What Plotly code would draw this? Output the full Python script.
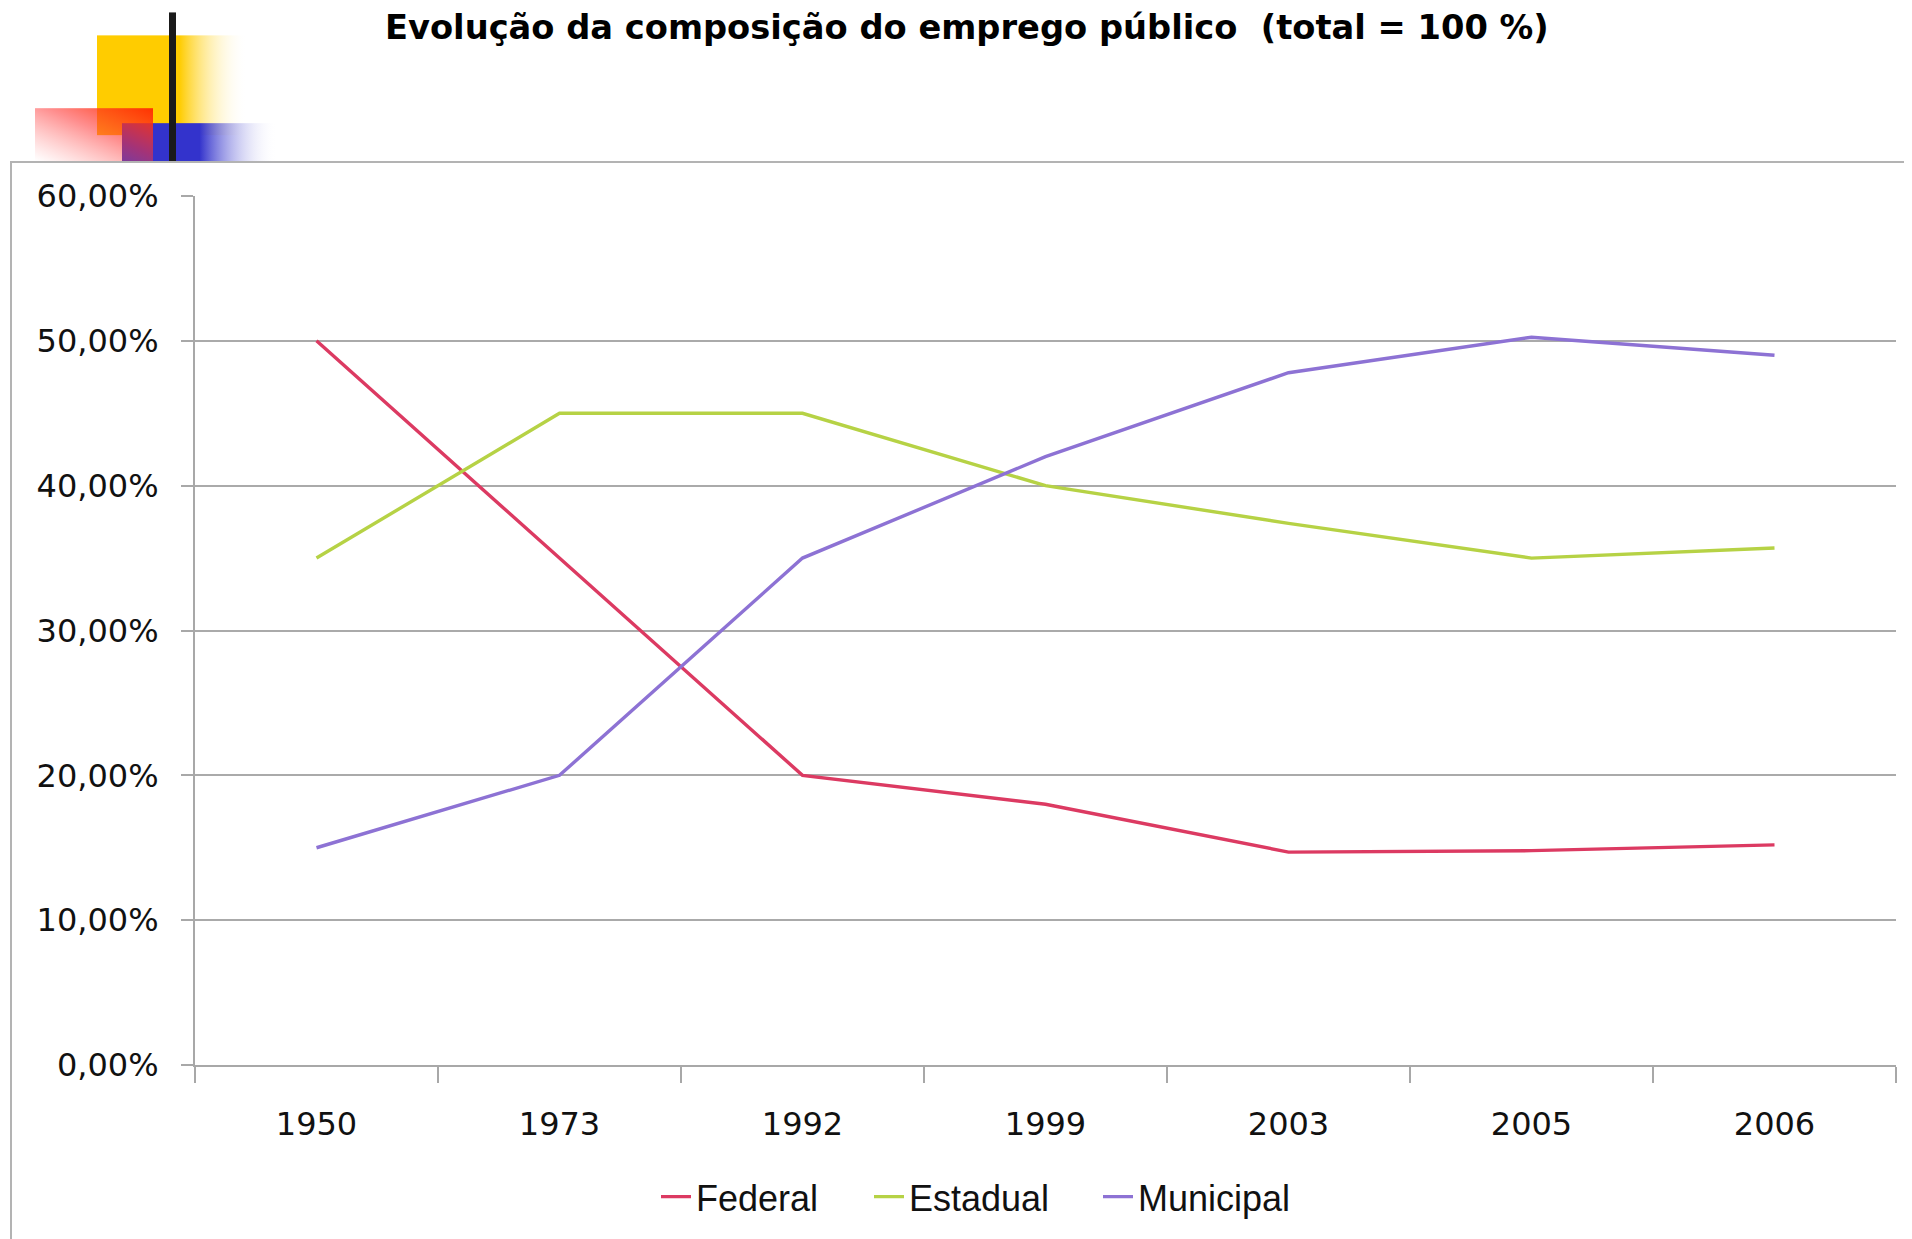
import base64
import plotly.graph_objects as go

# ---------------- data ----------------
years = ["1950", "1973", "1992", "1999", "2003", "2005", "2006"]
federal = [50.0, 35.0, 20.0, 18.0, 14.7, 14.8, 15.2]
estadual = [35.0, 45.0, 45.0, 40.0, 37.4, 35.0, 35.7]
municipal = [15.0, 20.0, 35.0, 42.0, 47.8, 50.25, 49.0]
y_tickvals = [0, 10, 20, 30, 40, 50, 60]
y_ticktext = ["0,00%", "10,00%", "20,00%", "30,00%", "40,00%", "50,00%", "60,00%"]
title_text = "Evolução da composição do emprego público  (total = 100 %)"

# ---------------- geometry (page pixel coordinates) ----------------
W, H = 1912, 1239
OFF = 8  # default body margin of the html page
L, R, T, B = 195, 1896, 196, 1067
PW, PH = R - L, B - T


def px(xp):
    return (xp - L) / PW


def py(yp):
    return (B - yp) / PH


fig = go.Figure()
series = [("Federal", federal, "#dc3a62", "legend", 656),
          ("Estadual", estadual, "#b6d245", "legend2", 869),
          ("Municipal", municipal, "#8d72d4", "legend3", 1098)]
legend_cfg = {}
for name, vals, col, lg, lx in series:
    fig.add_trace(go.Scatter(x=years, y=vals, name=name, mode="lines",
                             line=dict(color=col, width=3.4), legend=lg))
    legend_cfg[lg] = dict(orientation="h", x=px(lx), y=py(1199),
                          xanchor="left", yanchor="middle",
                          font=dict(family="Liberation Sans", size=36,
                                    color="#111111"),
                          bgcolor="rgba(0,0,0,0)")

# decorative top-left block as inline SVG
svg = """<svg xmlns="http://www.w3.org/2000/svg" width="280" height="165" viewBox="0 0 280 165">
<defs>
<linearGradient id="gy" x1="0" y1="0" x2="1" y2="0">
<stop offset="0" stop-color="#FFCC00"/><stop offset="0.55" stop-color="#FFCC00"/>
<stop offset="1" stop-color="#FFFFFF" stop-opacity="0"/></linearGradient>
<linearGradient id="gb" x1="0" y1="0" x2="1" y2="0">
<stop offset="0" stop-color="#3333CC"/><stop offset="0.5" stop-color="#3333CC"/>
<stop offset="1" stop-color="#FFFFFF" stop-opacity="0"/></linearGradient>
<linearGradient id="gr" x1="1" y1="0" x2="0" y2="1">
<stop offset="0" stop-color="#FF3300" stop-opacity="1"/>
<stop offset="0.45" stop-color="#FF3333" stop-opacity="0.55"/>
<stop offset="1" stop-color="#FF6666" stop-opacity="0"/></linearGradient>
</defs>
<rect x="97" y="35" width="150" height="100" fill="url(#gy)"/>
<rect x="122" y="123" width="155" height="38" fill="url(#gb)"/>
<rect x="35" y="108" width="118" height="53" fill="url(#gr)"/>
<rect x="169" y="12" width="7" height="149" fill="#1a1a1a"/>
</svg>"""
uri = "data:image/svg+xml;base64," + base64.b64encode(svg.encode()).decode()
fig.add_layout_image(dict(source=uri, xref="paper", yref="paper",
                          x=px(0), y=py(0), sizex=280 / PW, sizey=165 / PH,
                          xanchor="left", yanchor="top", sizing="stretch",
                          layer="above"))

# chart frame
fig.add_shape(type="rect", xref="paper", yref="paper",
              x0=px(11), x1=px(1930), y0=py(1260), y1=py(162),
              line=dict(color="#b3b3b3", width=2), fillcolor="rgba(0,0,0,0)")

fig.add_annotation(text="<b>" + title_text + "</b>", xref="paper", yref="paper",
                   x=px(967), y=py(27), xanchor="center", yanchor="middle",
                   showarrow=False,
                   font=dict(family="DejaVu Sans", size=33.7, color="#000000"))

fig.update_layout(
    width=W - OFF, height=H - OFF, autosize=False,
    margin=dict(l=L - OFF, r=W - R, t=T - OFF, b=H - B, pad=0),
    paper_bgcolor="white", plot_bgcolor="white",
    showlegend=True,
    xaxis=dict(type="category", showgrid=False, showline=True,
               linecolor="#a8a8a8", linewidth=2, ticks="outside",
               tickson="boundaries", ticklen=16, tickcolor="#a8a8a8",
               tickwidth=2, ticklabelstandoff=30,
               tickfont=dict(family="DejaVu Sans", size=32, color="#111111"),
               range=[-0.5, 6.5], fixedrange=True),
    yaxis=dict(range=[0, 60], tickvals=y_tickvals, ticktext=y_ticktext,
               showgrid=True, gridcolor="#aaaaaa", gridwidth=1.5,
               showline=True, linecolor="#a8a8a8", linewidth=2,
               ticks="outside", ticklen=12, tickcolor="#a8a8a8", tickwidth=2,
               ticklabelstandoff=16, zeroline=False,
               tickfont=dict(family="DejaVu Sans", size=32, color="#111111"),
               fixedrange=True),
    **legend_cfg,
)

fig.write_html("out.html")
